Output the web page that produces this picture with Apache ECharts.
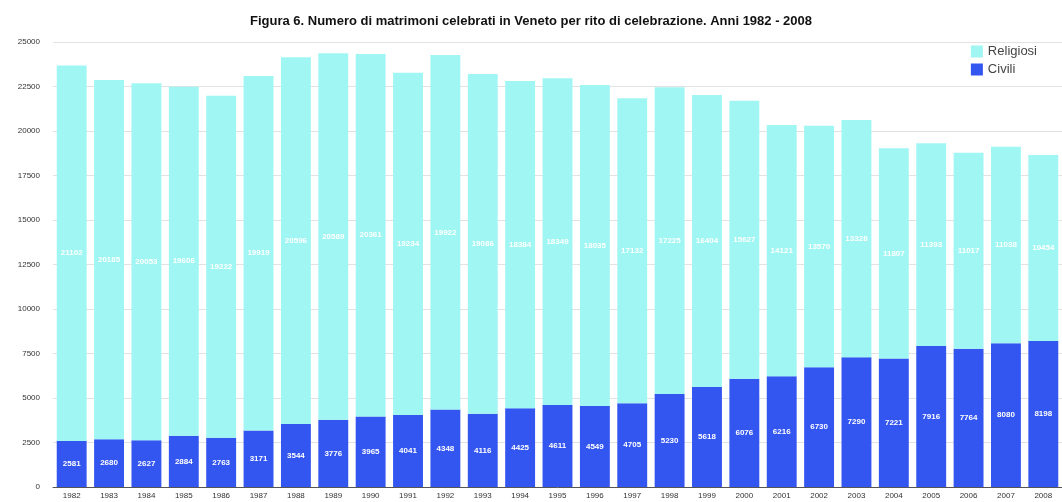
<!DOCTYPE html>
<html>
<head>
<meta charset="utf-8">
<script src="https://cdn.jsdelivr.net/npm/echarts@6/dist/echarts.min.js"></script>
<style>
  html, body { margin: 0; padding: 0; background: #fff; }
  #chart { width: 1062px; height: 502px; }
</style>
</head>
<body>
<div id="chart"></div>
<script>
// anni
var anni = ["1982", "1983", "1984", "1985", "1986", "1987", "1988", "1989", "1990",
  "1991", "1992", "1993", "1994", "1995", "1996", "1997", "1998", "1999", "2000",
  "2001", "2002", "2003", "2004", "2005", "2006", "2007", "2008"];

var civili = [2581, 2680, 2627, 2884, 2763, 3171, 3544, 3776, 3965, 4041, 4348, 4116,
  4425, 4611, 4549, 4705, 5230, 5618, 6076, 6216, 6730, 7290, 7221, 7916, 7764, 8080, 8198];

// matrimoni religiosi (stimati dall'altezza delle barre)
var religiosi = [21102, 20185, 20053, 19606, 19222, 19919, 20596, 20589, 20361, 19234,
  19922, 19086, 18384, 18349, 18035, 17132, 17225, 16404, 15627, 14121, 13570, 13328,
  11807, 11393, 11017, 11038, 10454];

var myChart = echarts.init(document.getElementById("chart"));

var option = {
  backgroundColor: "#ffffff",
  animation: false,
  title: {
    text: "Figura 6. Numero di matrimoni celebrati in Veneto per rito di celebrazione. Anni 1982 - 2008",
    left: "center",
    top: 10,
    textStyle: {
      fontFamily: "Liberation Sans, Arial, sans-serif",
      fontWeight: "bold",
      fontSize: 13,
      color: "#111"
    }
  },
  legend: {
    orient: "vertical",
    right: 20,
    top: 40,
    itemWidth: 12,
    itemHeight: 12,
    itemGap: 5,
    icon: "rect",
    data: ["Religiosi", "Civili"],
    textStyle: {
      fontFamily: "Liberation Sans, Arial, sans-serif",
      fontSize: 13,
      color: "#444"
    }
  },
  grid: {
    left: 53,
    right: -5,
    top: 42,
    bottom: 15
  },
  xAxis: {
    type: "category",
    data: anni,
    axisTick: { show: false },
    axisLine: { lineStyle: { color: "#555", width: 1 } },
    axisLabel: {
      fontSize: 8,
      color: "#333",
      margin: 5,
      fontFamily: "Liberation Sans, Arial, sans-serif"
    }
  },
  yAxis: {
    type: "value",
    min: 0,
    max: 25000,
    interval: 2500,
    axisLine: { show: false },
    axisTick: { show: false },
    splitLine: { lineStyle: { color: "#e2e2e2", width: 1 } },
    axisLabel: {
      fontSize: 8,
      color: "#333",
      margin: 13,
      fontFamily: "Liberation Sans, Arial, sans-serif",
      formatter: function (v) {
        return String(v);
      }
    }
  },
  series: [
    {
      name: "Civili",
      type: "bar",
      stack: "tot",
      data: civili,
      barCategoryGap: "20%",
      itemStyle: { color: "#3355f0" },
      label: {
        show: true,
        position: "inside",
        color: "#fff",
        fontSize: 8,
        fontWeight: "bold",
        fontFamily: "Liberation Sans, Arial, sans-serif"
      }
    },
    {
      name: "Religiosi",
      type: "bar",
      stack: "tot",
      data: religiosi,
      barCategoryGap: "20%",
      itemStyle: { color: "#a0f6f3" },
      label: {
        show: true,
        position: "inside",
        color: "#fff",
        fontSize: 8,
        fontWeight: "bold",
        fontFamily: "Liberation Sans, Arial, sans-serif"
      }
    }
  ]
};

myChart.setOption(option);
</script>
</body>
</html>
